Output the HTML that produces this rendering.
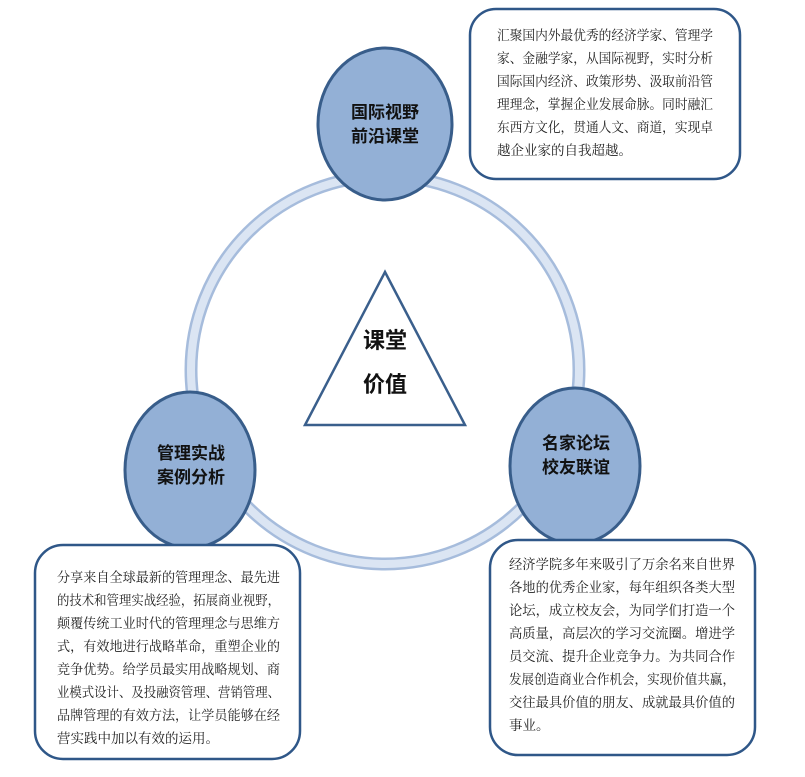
<!DOCTYPE html>
<html><head><meta charset="utf-8"><style>
html,body{margin:0;padding:0;background:#fff;}
svg{display:block}
text{font-family:"Liberation Serif","Noto Serif CJK SC","Noto Sans CJK SC",serif;}
.t{font-size:13.5px;fill:#222;}
.h{font-family:"Liberation Sans","Noto Sans CJK SC",sans-serif;font-weight:bold;fill:#111;}
</style></head><body>
<svg width="805" height="777" viewBox="0 0 805 777" xmlns="http://www.w3.org/2000/svg">
<circle cx="385" cy="370" r="194" fill="none" stroke="#a6bcdc" stroke-width="13"/>
<circle cx="385" cy="370" r="194" fill="none" stroke="#dbe5f3" stroke-width="8"/>
<polygon points="385,272 305,425 465,425" fill="#fff" stroke="#3a5f8c" stroke-width="2.5"/>
<text class="h" x="385" y="348" font-size="22" text-anchor="middle">课堂</text>
<text class="h" x="385" y="392" font-size="22" text-anchor="middle">价值</text>
<ellipse cx="385" cy="124" rx="67" ry="76" fill="#93b0d6" stroke="#385d8a" stroke-width="3"/>
<text class="h" x="385" y="118" font-size="17" text-anchor="middle">国际视野</text>
<text class="h" x="385" y="142" font-size="17" text-anchor="middle">前沿课堂</text>
<ellipse cx="190" cy="470" rx="65" ry="78" fill="#93b0d6" stroke="#385d8a" stroke-width="3"/>
<text class="h" x="191" y="459" font-size="17" text-anchor="middle">管理实战</text>
<text class="h" x="191" y="483" font-size="17" text-anchor="middle">案例分析</text>
<ellipse cx="575" cy="466" rx="65" ry="78" fill="#93b0d6" stroke="#385d8a" stroke-width="3"/>
<text class="h" x="576" y="449" font-size="17" text-anchor="middle">名家论坛</text>
<text class="h" x="576" y="473" font-size="17" text-anchor="middle">校友联谊</text>
<rect x="470" y="9" width="270" height="170" rx="26" fill="#fff" stroke="#2f5788" stroke-width="2.5"/>
<g class="t">
<text x="497" y="40" textLength="216" lengthAdjust="spacingAndGlyphs">汇聚国内外最优秀的经济学家、管理学</text>
<text x="497" y="63" textLength="216" lengthAdjust="spacingAndGlyphs">家、金融学家，从国际视野，实时分析</text>
<text x="497" y="86" textLength="216" lengthAdjust="spacingAndGlyphs">国际国内经济、政策形势、汲取前沿管</text>
<text x="497" y="109" textLength="216" lengthAdjust="spacingAndGlyphs">理理念，掌握企业发展命脉。同时融汇</text>
<text x="497" y="132" textLength="216" lengthAdjust="spacingAndGlyphs">东西方文化，贯通人文、商道，实现卓</text>
<text x="497" y="155">越企业家的自我超越。</text>
</g>
<rect x="35" y="545" width="265" height="214" rx="28" fill="#fff" stroke="#2f5788" stroke-width="2.5"/>
<g class="t">
<text x="57" y="582" textLength="223" lengthAdjust="spacingAndGlyphs">分享来自全球最新的管理理念、最先进</text>
<text x="57" y="605" textLength="223" lengthAdjust="spacingAndGlyphs">的技术和管理实战经验，拓展商业视野，</text>
<text x="57" y="628" textLength="223" lengthAdjust="spacingAndGlyphs">颠覆传统工业时代的管理理念与思维方</text>
<text x="57" y="651" textLength="223" lengthAdjust="spacingAndGlyphs">式，有效地进行战略革命，重塑企业的</text>
<text x="57" y="674" textLength="223" lengthAdjust="spacingAndGlyphs">竞争优势。给学员最实用战略规划、商</text>
<text x="57" y="697" textLength="223" lengthAdjust="spacingAndGlyphs">业模式设计、及投融资管理、营销管理、</text>
<text x="57" y="720" textLength="223" lengthAdjust="spacingAndGlyphs">品牌管理的有效方法，让学员能够在经</text>
<text x="57" y="743">营实践中加以有效的运用。</text>
</g>
<rect x="490" y="540" width="265" height="215" rx="28" fill="#fff" stroke="#2f5788" stroke-width="2.5"/>
<g class="t">
<text x="509" y="569" textLength="226" lengthAdjust="spacingAndGlyphs">经济学院多年来吸引了万余名来自世界</text>
<text x="509" y="592" textLength="226" lengthAdjust="spacingAndGlyphs">各地的优秀企业家，每年组织各类大型</text>
<text x="509" y="615" textLength="226" lengthAdjust="spacingAndGlyphs">论坛，成立校友会，为同学们打造一个</text>
<text x="509" y="638" textLength="226" lengthAdjust="spacingAndGlyphs">高质量，高层次的学习交流圈。增进学</text>
<text x="509" y="661" textLength="226" lengthAdjust="spacingAndGlyphs">员交流、提升企业竞争力。为共同合作</text>
<text x="509" y="684" textLength="226" lengthAdjust="spacingAndGlyphs">发展创造商业合作机会，实现价值共赢，</text>
<text x="509" y="707" textLength="226" lengthAdjust="spacingAndGlyphs">交往最具价值的朋友、成就最具价值的</text>
<text x="509" y="730">事业。</text>
</g>
</svg>
</body></html>
